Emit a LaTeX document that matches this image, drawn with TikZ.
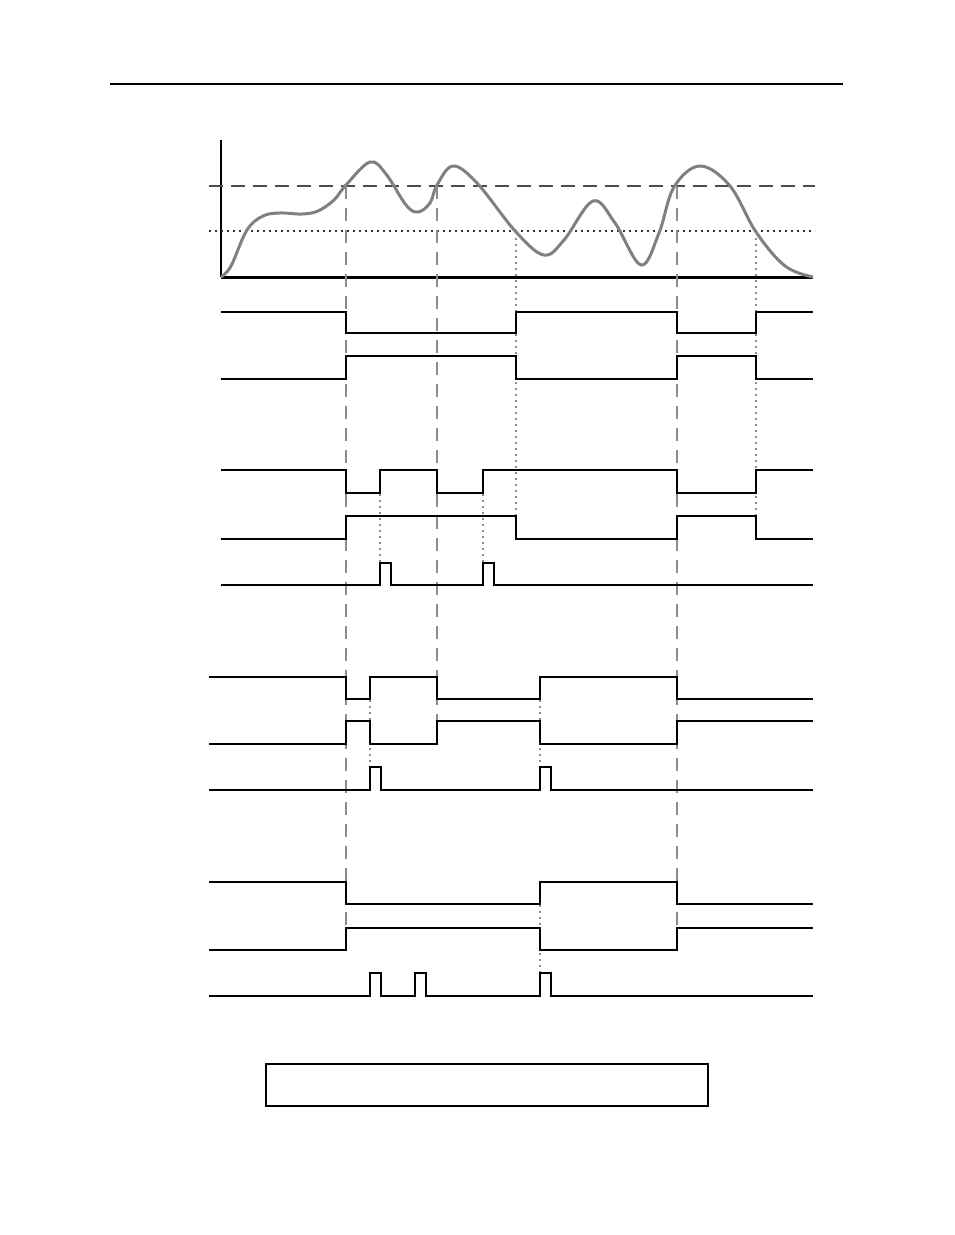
\documentclass[tikz,border=0pt]{standalone}
\usetikzlibrary{calc}

\definecolor{curvegray}{RGB}{128,128,128}
\definecolor{guidegray}{RGB}{140,140,140}

\begin{document}
\begin{tikzpicture}[x=1pt, y=-1pt,
  sig/.style={line width=2pt, black, line join=miter},
  guide/.style={line width=2pt, guidegray, dash pattern=on 13pt off 9pt},
  dotguide/.style={line width=1.5pt, guidegray, dash pattern=on 2pt off 4pt},
  level/.style={line width=1.5pt, black!70, dash pattern=on 14pt off 8pt}]

\useasboundingbox (0,0) rectangle (954,1235);

% header rule
\draw [line width=2pt] (110,84) -- (843,84);

% axes
\draw [line width=2pt] (221,140) -- (221,277);
\draw [line width=3pt] (221,277) -- (813,277);
\draw [level] (209,186) -- (815,186);
\draw [dotguide, black!80] (209,231) -- (815,231);

% signal curve
\draw [curvegray, line width=3pt] plot [smooth, tension=0.6] coordinates {
  (221,277) (231,266) (247,230) (263,216) (280,213) (302,214) (318,211)
  (334,200) (346,185) (370,162) (386,174) (406,205) (418,212) (430,203)
  (437,185) (453,166) (477,183) (516,232) (544,255) (564,240) (593,201)
  (615,223) (641,265) (659,233) (674,187) (700,166) (730,186) (756,232)
  (785,266) (813,277)};

% vertical guides
\draw [guide] (346,186) -- (346,925);
\draw [guide] (437,186) -- (437,745);
\draw [guide] (677,186) -- (677,925);
\draw [dotguide] (516,232) -- (516,517);
\draw [dotguide] (756,232) -- (756,517);
\draw [dotguide] (380,494) -- (380,563);
\draw [dotguide] (483,494) -- (483,563);
\draw [dotguide] (370,700) -- (370,767);
\draw [dotguide] (540,700) -- (540,767);
\draw [dotguide] (540,905) -- (540,973);

% group 1
\draw [sig] (221,312) -- (346,312) -- (346,333) -- (516,333) -- (516,312)
  -- (677,312) -- (677,333) -- (756,333) -- (756,312) -- (813,312);
\draw [sig] (221,379) -- (346,379) -- (346,356) -- (516,356) -- (516,379)
  -- (677,379) -- (677,356) -- (756,356) -- (756,379) -- (813,379);

% group 2
\draw [sig] (221,470) -- (346,470) -- (346,493) -- (380,493) -- (380,470)
  -- (437,470) -- (437,493) -- (483,493) -- (483,470) -- (677,470)
  -- (677,493) -- (756,493) -- (756,470) -- (813,470);
\draw [sig] (221,539) -- (346,539) -- (346,516) -- (516,516) -- (516,539)
  -- (677,539) -- (677,516) -- (756,516) -- (756,539) -- (813,539);
\draw [sig] (221,585) -- (380,585) -- (380,563) -- (391,563) -- (391,585)
  -- (483,585) -- (483,563) -- (494,563) -- (494,585) -- (813,585);

% group 3
\draw [sig] (209,677) -- (346,677) -- (346,699) -- (370,699) -- (370,677)
  -- (437,677) -- (437,699) -- (540,699) -- (540,677) -- (677,677)
  -- (677,699) -- (813,699);
\draw [sig] (209,744) -- (346,744) -- (346,721) -- (370,721) -- (370,744)
  -- (437,744) -- (437,721) -- (540,721) -- (540,744) -- (677,744)
  -- (677,721) -- (813,721);
\draw [sig] (209,790) -- (370,790) -- (370,767) -- (381,767) -- (381,790)
  -- (540,790) -- (540,767) -- (551,767) -- (551,790) -- (813,790);

% group 4
\draw [sig] (209,882) -- (346,882) -- (346,904) -- (540,904) -- (540,882)
  -- (677,882) -- (677,904) -- (813,904);
\draw [sig] (209,950) -- (346,950) -- (346,928) -- (540,928) -- (540,950)
  -- (677,950) -- (677,928) -- (813,928);
\draw [sig] (209,996) -- (370,996) -- (370,973) -- (381,973) -- (381,996)
  -- (415,996) -- (415,973) -- (426,973) -- (426,996) -- (540,996)
  -- (540,973) -- (551,973) -- (551,996) -- (813,996);

% caption box
\draw [line width=1.5pt] (266,1064) rectangle (708,1106);

\end{tikzpicture}
\end{document}
